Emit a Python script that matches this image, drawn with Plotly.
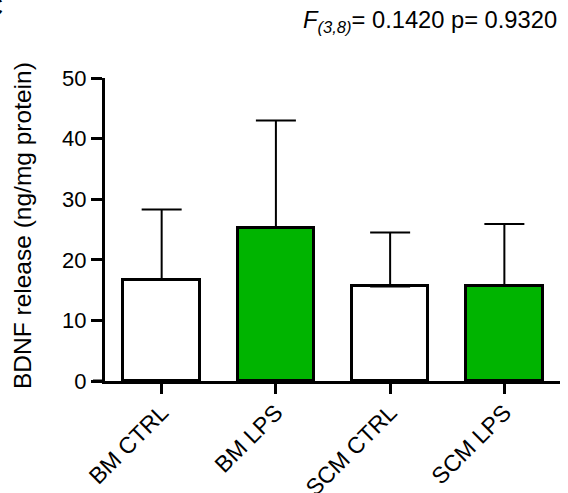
import plotly.graph_objects as go

categories = ["BM CTRL", "BM LPS", "SCM CTRL", "SCM LPS"]
means = [16.7, 25.3, 15.6, 15.7]
errors = [11.6, 17.7, 8.9, 10.2]
colors = ["#FFFFFF", "#00B400", "#FFFFFF", "#00B400"]
y_ticks = [0, 10, 20, 30, 40, 50]

W, H = 568, 493
L, R, T, B = 105, 8, 78, 112
pw = W - L - R
ph = H - T - B

fig = go.Figure()
fig.add_trace(go.Bar(
    x=list(range(len(categories))),
    y=means,
    width=0.67,
    marker=dict(color=colors, line=dict(color="black", width=3)),
    error_y=dict(type="data", symmetric=False, array=errors,
                 arrayminus=[0] * len(errors), color="black",
                 thickness=2, width=20),
    showlegend=False,
))

font = "Liberation Sans, Arial, sans-serif"
fig.update_layout(
    template="none",
    width=W, height=H,
    margin=dict(l=L, r=R, t=T, b=B, pad=0, autoexpand=False),
    plot_bgcolor="white", paper_bgcolor="white",
    font=dict(family=font, size=22, color="black"),
    bargap=0,
    xaxis=dict(
        automargin=False,
        domain=[0, 1],
        range=[-0.496, 3.487],
        tickmode="array", tickvals=list(range(len(categories))),
        ticktext=categories, tickangle=-45,
        ticks="outside", ticklen=10, tickwidth=3, tickcolor="black",
        ticklabelstandoff=-4,
        showline=True, linewidth=3, linecolor="black",
        showgrid=False, zeroline=False,
        tickfont=dict(size=23),
    ),
    yaxis=dict(
        automargin=False,
        range=[0, 50],
        tickmode="array", tickvals=y_ticks,
        ticks="outside", ticklen=11, tickwidth=3, tickcolor="black",
        showline=True, linewidth=3, linecolor="black",
        showgrid=False, zeroline=False,
        tickfont=dict(size=22),
    ),
    shapes=[
        # short extension of the x axis line to the left of the y axis
        dict(type="line", xref="paper", yref="paper",
             x0=-12 / pw, x1=0, y0=0, y1=0,
             line=dict(color="black", width=3), layer="above"),
    ],
    annotations=[
        dict(text="BDNF release (ng/mg protein)", textangle=-90,
             xref="paper", yref="paper",
             x=(22 - L) / pw, y=(H - B - 226) / ph,
             xanchor="center", yanchor="middle", showarrow=False,
             font=dict(size=24.5)),
        dict(text="<i>F</i><sub><i>(3,8)</i></sub>= 0.1420 p= 0.9320",
             xref="paper", yref="paper",
             x=(301 - L) / pw, y=(H - B - 22) / ph,
             xanchor="left", yanchor="middle", showarrow=False,
             font=dict(size=23.7)),
        dict(text="C", xref="paper", yref="paper",
             x=(5 - L) / pw, y=(H - B - 6) / ph,
             xanchor="right", yanchor="middle", showarrow=False,
             font=dict(size=28)),
    ],
)

fig.write_html(
    "out.html",
    config={"displayModeBar": False},
    post_script="document.body.style.margin='0';document.body.style.overflow='hidden';",
)
